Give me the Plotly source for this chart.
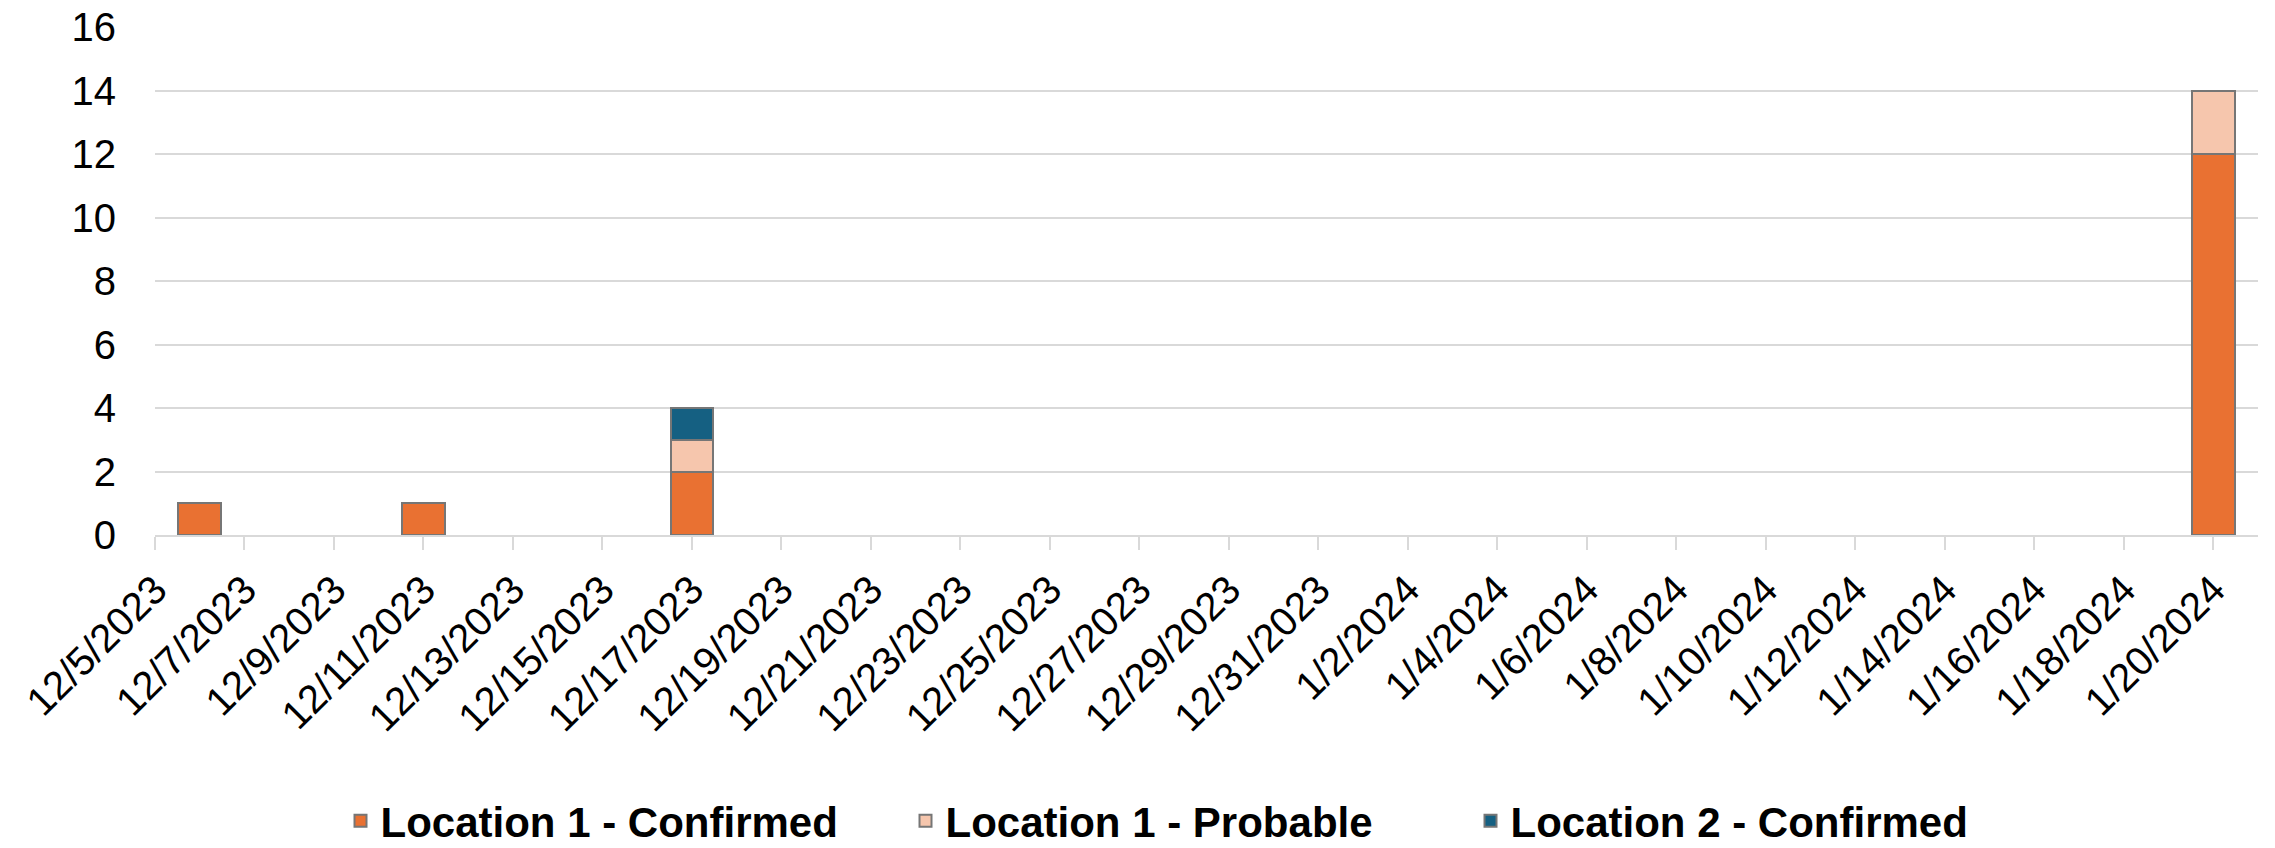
import pandas as pd
import plotly.graph_objects as go

# ---- data ----
dates = ["2023-12-06", "2023-12-11", "2023-12-17", "2024-01-20"]
loc1_confirmed = [1, 1, 2, 12]
loc1_probable = [0, 0, 1, 2]
loc2_confirmed = [0, 0, 1, 0]

series_names = ["Location 1 - Confirmed", "Location 1 - Probable", "Location 2 - Confirmed"]
series_colors = ["#E97132", "#F6C6AD", "#156082"]

tick_labels = [
    "12/5/2023", "12/7/2023", "12/9/2023", "12/11/2023", "12/13/2023", "12/15/2023",
    "12/17/2023", "12/19/2023", "12/21/2023", "12/23/2023", "12/25/2023", "12/27/2023",
    "12/29/2023", "12/31/2023", "1/2/2024", "1/4/2024", "1/6/2024", "1/8/2024",
    "1/10/2024", "1/12/2024", "1/14/2024", "1/16/2024", "1/18/2024", "1/20/2024",
]
x_range = ["2023-12-05", "2024-01-21"]
y_ticks = [0, 2, 4, 6, 8, 10, 12, 14, 16]

# ---- figure ----
tick_vals = pd.to_datetime(tick_labels, format="%m/%d/%Y")
x = pd.to_datetime(dates)
day_ms = 86400000
FONT = "Arial, 'Liberation Sans', sans-serif"

fig = go.Figure()
for name, vals, col in zip(series_names, [loc1_confirmed, loc1_probable, loc2_confirmed], series_colors):
    fig.add_trace(go.Bar(
        x=x, y=vals, name=name,
        width=0.95 * day_ms,
        marker=dict(color=col, line=dict(color="#767676", width=2)),
    ))

fig.update_layout(
    template="none",
    width=2275, height=848,
    barmode="stack",
    paper_bgcolor="white", plot_bgcolor="white",
    margin=dict(l=155, r=17, t=27, b=313, autoexpand=False),
    font=dict(family=FONT, size=40, color="black"),
    showlegend=True,
    legend=dict(
        orientation="h",
        traceorder="normal",
        x=0.5222, xanchor="center", xref="container",
        y=-0.563, yanchor="middle",
        font=dict(family=FONT, size=42, color="black", weight="bold"),
        entrywidth=520, entrywidthmode="pixels",
        itemwidth=30,
        bgcolor="rgba(0,0,0,0)",
    ),
    xaxis=dict(
        type="date",
        range=x_range,
        tickmode="array",
        tickvals=tick_vals,
        ticktext=tick_labels,
        tickangle=-45,
        tickfont=dict(family=FONT, size=40, color="black"),
        showgrid=False,
        showline=True, linecolor="#D9D9D9", linewidth=2,
        ticks="outside", ticklen=13, tickwidth=2, tickcolor="#D9D9D9",
        zeroline=False,
        automargin=False,
        ticklabeloverflow="allow",
    ),
    yaxis=dict(
        range=[0, 16],
        tickmode="array",
        tickvals=y_ticks,
        tickfont=dict(family=FONT, size=40, color="black"),
        showgrid=True, gridcolor="#D9D9D9", gridwidth=2,
        showline=False, zeroline=False,
        ticks="",
        ticklabelstandoff=38,
        automargin=False,
        ticklabeloverflow="allow",
    ),
)

fig.write_html(
    "out.html",
    config={"displayModeBar": False},
    post_script="document.body.style.margin='0px';",
)
